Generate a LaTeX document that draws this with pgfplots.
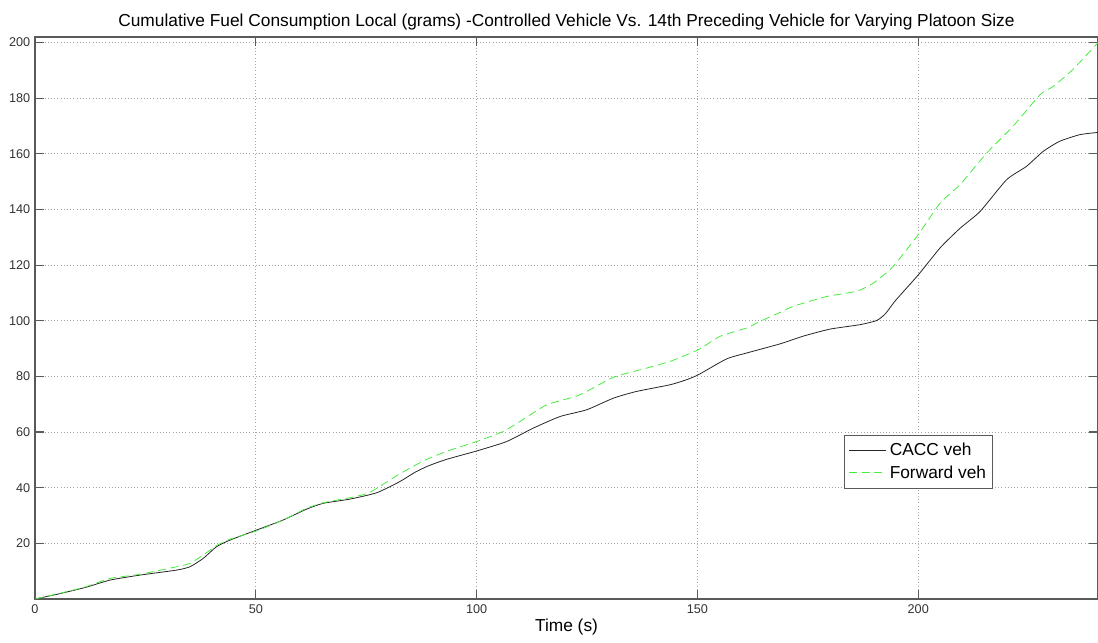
\documentclass[border=0pt]{standalone}
\usepackage{fontspec}
\setmainfont{Liberation Sans}
\usepackage{pgfplots}
\pgfplotsset{compat=1.18}
\definecolor{fwdgreen}{RGB}{70,235,60}
\definecolor{axgray}{RGB}{90,90,90}
\begin{document}
\begin{tikzpicture}
\begin{axis}[
  name=main,
  scale only axis,
  width=797.25pt, height=421.5pt,
  xmin=0, xmax=240.7, ymin=0, ymax=202,
  xtick={0,50,100,150,200},
  ytick={20,40,60,80,100,120,140,160,180,200},
  tick pos=both, tick align=inside,
  major tick length=7pt,
  axis line style={axgray, line width=0.8pt},
  every tick/.style={axgray, line width=0.9pt},
  grid=major,
  major grid style={gray!70, dotted, line width=0.6pt},
  ticklabel style={font=\fontsize{9.5}{11}\selectfont, text=black!80},
  /pgf/number format/assume math mode=true,
  xticklabel style={yshift=-1pt},
  xlabel={Time (s)},
  xlabel style={font=\fontsize{13}{15}\selectfont, yshift=3pt},
  title={Cumulative Fuel Consumption Local (grams) -Controlled Vehicle Vs. 14th Preceding Vehicle for Varying Platoon Size},
  title style={font=\fontsize{13}{15}\selectfont, yshift=-4pt},
  legend style={at={(0.761,0.292)}, anchor=north west, draw=axgray, line width=0.7pt,
    font=\fontsize{13}{15}\selectfont, inner xsep=3pt, inner ysep=4pt, row sep=2pt, fill=white},
  legend cell align=left,
]
\addplot[black!85, line width=0.6pt, smooth, tension=0.35,
  legend image code/.code={\draw[black!85, line width=0.6pt] (0pt,0pt) -- (28pt,0pt);}] coordinates {
(0,0) (5,1.7) (11.3,4.1) (17,6.8) (23.8,8.6) (32.1,10.4) (35.1,11.6) (38.1,14.6)
(41.1,18.8) (44.2,21.2) (50.2,24.8) (56.2,28.4) (61.5,32.3) (65.3,34.4) (71.3,35.9)
(77.4,38.2) (82.6,42.2) (86,45.5) (89,47.8) (93.2,50.2) (100,53.2) (106.8,56.6)
(112.8,61.4) (118.9,65.6) (124.9,68) (131,72.2) (136.2,74.6) (143.8,77) (147.5,78.8)
(150.2,80.6) (156.6,86.3) (161.1,88.4) (168.7,91.7) (174,94.5) (180,97) (186.8,98.6)
(190.6,100.1) (192.6,102.6) (194.8,107.2) (200,116.5) (205,126.3) (209.5,133.3) (214,139.3)
(220,150.7) (224.5,155.5) (228.3,160.9) (232,164.5) (236.6,166.9) (240.7,167.7)
};
\addlegendentry{CACC veh}
\addplot[fwdgreen, line width=0.6pt, dash pattern=on 6pt off 3.5pt, smooth, tension=0.35,
  legend image code/.code={\draw[fwdgreen, line width=1pt, dash pattern=on 6pt off 3.5pt] (0pt,0.5pt) -- (28pt,0.5pt);}] coordinates {
(0,0) (5,1.8) (11.3,4.3) (17,7.4) (23.8,8.9) (32.1,11.6) (35.1,12.8) (38.1,15.8)
(41.1,19.2) (44.2,21.5) (50.2,24.5) (56.2,28.4) (61.5,32.6) (65.3,34.6) (71.3,36.4)
(75,37.8) (77.4,39.8) (82.6,45) (88.7,50.2) (94,53.5) (100,56.6) (106,60.2)
(110.5,64.5) (115.9,69.8) (123.4,73.4) (131,79.7) (138.5,83) (143.8,85.4) (150.2,89.6)
(155.1,94.4) (161.1,97.4) (164.2,99.8) (168.7,103) (171.7,105.2) (179.2,108.7)
(186,110.6) (189.8,113.5) (194.3,119.5) (200,131) (205,142.4) (209.5,149)
(215.5,160.3) (221.5,170) (227.6,181.3) (230.6,184.3) (235,190.3) (240.7,200)
};
\addlegendentry{Forward veh}
\end{axis}
\pgfresetboundingbox
\path ([xshift=-26.25pt,yshift=-32.25pt]main.south west) rectangle ([yshift=27.75pt]main.north east);
\end{tikzpicture}
\end{document}
